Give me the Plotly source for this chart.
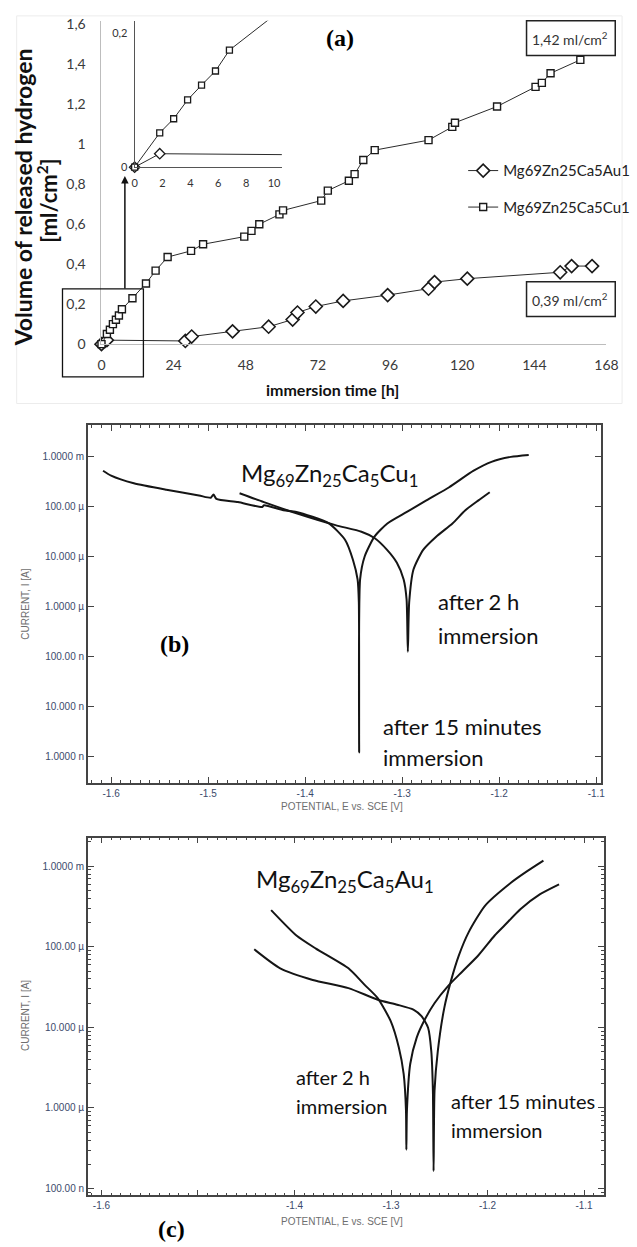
import plotly.graph_objects as go

W, H = 637, 1247


def px(x):
    return x / W


def py(y):
    return 1 - y / H


# ---------------- (a) hydrogen evolution ----------------
cu_hours = [0, 1.8, 2.8, 3.8, 4.8, 5.8, 6.8, 10.3, 14.8, 18.0, 22.0, 29.8, 33.8, 47.5, 49.9,
            52.5, 59.2, 60.4, 73.1, 75.3, 82.3, 84.2, 87.1, 90.9, 108.8, 116.7, 117.6, 131.6,
            144.4, 146.5, 149.4, 159.3]
cu_volume = [0, 0.051, 0.072, 0.100, 0.122, 0.143, 0.174, 0.229, 0.303, 0.367, 0.435, 0.466,
             0.499, 0.537, 0.566, 0.599, 0.648, 0.668, 0.717, 0.767, 0.816, 0.849, 0.920, 0.969,
             1.019, 1.085, 1.106, 1.187, 1.285, 1.305, 1.353, 1.420]
au_hours = [0, 1.8, 27.9, 30.0, 43.6, 55.6, 63.6, 65.2, 71.3, 80.4, 95.2, 108.8, 110.8, 121.7,
            152.6, 156.4, 163.2]
au_volume = [0, 0.020, 0.016, 0.038, 0.064, 0.087, 0.123, 0.158, 0.188, 0.216, 0.245, 0.277,
             0.310, 0.327, 0.359, 0.390, 0.390]

a_xticks = [0, 24, 48, 72, 96, 120, 144, 168]
a_yticks = [0, 0.2, 0.4, 0.6, 0.8, 1.0, 1.2, 1.4, 1.6]
a_yticktext = ["0", "0,2", "0,4", "0,6", "0,8", "1", "1,2", "1,4", "1,6"]
inset_xticks = [0, 2, 4, 6, 8, 10]
inset_yticks = [0, 0.2]
inset_yticktext = ["0", "0,2"]

# ---------------- (b) Mg69Zn25Ca5Cu1 polarisation ----------------
b15_E = [-1.6083, -1.600, -1.5766, -1.543, -1.5095, -1.4972, -1.4945, -1.4915, -1.4693, -1.4442,
         -1.4425, -1.4224, -1.409, -1.3759, -1.3588, -1.3508, -1.3460, -1.3447, -1.3444,
         -1.3434, -1.3387, -1.3286, -1.3153, -1.2952, -1.2751, -1.2516, -1.2264, -1.208,
         -1.188, -1.1696]
b15_log10I = [-3.277, -3.376, -3.529, -3.659, -3.772, -3.818, -3.752, -3.842, -3.905, -4.004,
              -3.970, -4.069, -4.103, -4.327, -4.663, -5.059, -5.455, -5.911, -8.921,
              -5.455, -4.994, -4.598, -4.333, -4.103, -3.871, -3.608, -3.277, -3.099,
              -3.000, -2.960]
b2h_E = [-1.4676, -1.4425, -1.409, -1.3688, -1.342, -1.3286, -1.3156, -1.3055, -1.2985, -1.2955,
         -1.2942, -1.2928, -1.2884, -1.2784, -1.265, -1.2482, -1.2349, -1.2214, -1.2098]
b2h_log10I = [-3.727, -3.905, -4.129, -4.366, -4.499, -4.624, -4.861, -5.119, -5.455, -5.851,
              -6.901, -5.911, -5.257, -4.861, -4.598, -4.333, -4.069, -3.871, -3.707]

b_yticks = [1e-9, 1e-8, 1e-7, 1e-6, 1e-5, 1e-4, 1e-3]
b_yticktext = ["1.0000 n", "10.000 n", "100.00 n", "1.0000 \u00b5", "10.000 \u00b5",
               "100.00 \u00b5", "1.0000 m"]
b_xticks = [-1.6, -1.5, -1.4, -1.3, -1.2, -1.1]
b_xticktext = ["-1.6", "-1.5", "-1.4", "-1.3", "-1.2", "-1.1"]

# ---------------- (c) Mg69Zn25Ca5Au1 polarisation ----------------
c2h_E = [-1.4242, -1.398, -1.3778, -1.3441, -1.3273, -1.3138, -1.3003, -1.2919, -1.2869,
         -1.2845, -1.2841, -1.2835, -1.2801, -1.2734, -1.265, -1.2548, -1.2414, -1.2263,
         -1.2094, -1.1926, -1.1825, -1.1657, -1.1455, -1.1259]
c2h_log10I = [-3.544, -3.859, -4.022, -4.267, -4.472, -4.636, -4.923, -5.249, -5.577, -6.027,
              -6.518, -6.027, -5.454, -5.126, -4.902, -4.697, -4.493, -4.309, -4.104, -3.859,
              -3.736, -3.531, -3.347, -3.225]
c15_E = [-1.4417, -1.4148, -1.3811, -1.3441, -1.3138, -1.2936, -1.2768, -1.2684, -1.2616,
         -1.2583, -1.2566, -1.2559, -1.2549, -1.2515, -1.2448, -1.2381, -1.2296, -1.2195,
         -1.2027, -1.1758, -1.1589, -1.1421]
c15_log10I = [-4.031, -4.267, -4.411, -4.513, -4.656, -4.718, -4.779, -4.861, -5.004, -5.291,
              -5.782, -6.783, -5.782, -5.291, -4.758, -4.432, -4.104, -3.818, -3.491, -3.205,
              -3.061, -2.930]

c_yticks = [1e-7, 1e-6, 1e-5, 1e-4, 1e-3]
c_yticktext = ["100.00 n", "1.0000 \u00b5", "10.000 \u00b5", "100.00 \u00b5", "1.0000 m"]
c_xticks = [-1.6, -1.5, -1.4, -1.3, -1.2, -1.1]
c_xticktext = ["-1.6", "", "-1.4", "-1.3", "-1.2", "-1.1"]


def to_current(vals):
    return [10 ** v for v in vals]


fig = go.Figure()

LINE = dict(color="#2b2b2b", width=1)
fig.add_trace(go.Scatter(
    x=au_hours, y=au_volume, mode="lines+markers", name="Mg69Zn25Ca5Au1",
    legendgroup="au", line=LINE, cliponaxis=False,
    marker=dict(symbol="diamond", size=10, color="white", line=dict(color="#1a1a1a", width=1.6)),
    xaxis="x", yaxis="y"))
fig.add_trace(go.Scatter(
    x=cu_hours, y=cu_volume, mode="lines+markers", name="Mg69Zn25Ca5Cu1",
    legendgroup="cu", line=LINE, cliponaxis=False,
    marker=dict(symbol="square", size=7, color="white", line=dict(color="#1a1a1a", width=1.4)),
    xaxis="x", yaxis="y"))
# inset
fig.add_trace(go.Scatter(
    x=au_hours, y=au_volume, mode="lines+markers", showlegend=False, line=LINE, cliponaxis=False,
    marker=dict(symbol="diamond", size=8, color="white", line=dict(color="#1a1a1a", width=1.3)),
    xaxis="x2", yaxis="y2"))
fig.add_trace(go.Scatter(
    x=cu_hours, y=cu_volume, mode="lines+markers", showlegend=False, line=LINE, cliponaxis=False,
    marker=dict(symbol="square", size=6, color="white", line=dict(color="#1a1a1a", width=1.3)),
    xaxis="x2", yaxis="y2"))

CURVE = dict(color="#151515", width=2, shape="spline", smoothing=0.6)
for E, L in [(b15_E, b15_log10I), (b2h_E, b2h_log10I)]:
    fig.add_trace(go.Scatter(x=E, y=to_current(L), mode="lines", line=CURVE,
                             showlegend=False, xaxis="x3", yaxis="y3"))
for E, L in [(c2h_E, c2h_log10I), (c15_E, c15_log10I)]:
    fig.add_trace(go.Scatter(x=E, y=to_current(L), mode="lines", line=CURVE,
                             showlegend=False, xaxis="x4", yaxis="y4"))

A_FONT = dict(family="Lato", size=14, color="#3a3a3a")
EC_TICKFONT = dict(family="Liberation Sans", size=10, color="#3b4a6b")
FRAME = "#444444"

fig.update_layout(
    width=W, height=H, autosize=False,
    margin=dict(l=0, r=0, t=0, b=0),
    paper_bgcolor="white", plot_bgcolor="white",
    showlegend=True,
    legend=dict(x=px(471), y=py(150), xanchor="left", yanchor="top",
                font=dict(family="Lato", size=15, color="#222222"),
                bgcolor="rgba(0,0,0,0)", itemwidth=30, tracegroupgap=14),
    xaxis=dict(domain=[px(100), px(618)], range=[0, 168], anchor="y",
               tickvals=a_xticks, showline=True, linecolor="#bdbdbd", linewidth=1,
               ticks="", showgrid=False, zeroline=False, tickfont=A_FONT,
               ticklabelstandoff=8),
    yaxis=dict(domain=[py(342), py(15)], range=[0, 1.6148], anchor="x",
               tickvals=a_yticks, ticktext=a_yticktext, showline=True, linecolor="#bdbdbd",
               linewidth=1, ticks="", showgrid=False, zeroline=False, tickfont=A_FONT,
               ticklabelstandoff=12),
    xaxis2=dict(domain=[px(134), px(285)], range=[0, 10.56], anchor="y2",
                tickvals=inset_xticks, showline=True, linecolor="#555555", linewidth=1,
                ticks="", showgrid=False, zeroline=False,
                tickfont=dict(family="Lato", size=11, color="#333333"), ticklabelstandoff=6),
    yaxis2=dict(domain=[py(163), py(15)], range=[0, 0.2176], anchor="x2",
                tickvals=inset_yticks, ticktext=inset_yticktext, showline=True,
                linecolor="#555555", linewidth=1, ticks="", showgrid=False, zeroline=False,
                tickfont=dict(family="Lato", size=11, color="#333333"), ticklabelstandoff=4),
    xaxis3=dict(domain=[px(86), px(612)], range=[-1.624, -1.0955], anchor="y3",
                tickvals=b_xticks, ticktext=b_xticktext, showline=True, mirror="allticks",
                linecolor=FRAME, linewidth=1.5, ticks="inside", ticklen=6, tickcolor=FRAME,
                minor=dict(dtick=0.01, ticks="inside", ticklen=3, tickcolor=FRAME),
                showgrid=False, zeroline=False, tickfont=EC_TICKFONT),
    yaxis3=dict(domain=[py(786), py(424)], type="log", range=[-9.535, -2.366], anchor="x3",
                tickvals=b_yticks, ticktext=b_yticktext, showline=True, mirror="allticks",
                linecolor=FRAME, linewidth=1.5, ticks="inside", ticklen=6, tickcolor=FRAME,
                showgrid=False, zeroline=False, tickfont=EC_TICKFONT),
    xaxis4=dict(domain=[px(86), px(615)], range=[-1.6141, -1.0798], anchor="y4",
                tickvals=c_xticks, ticktext=c_xticktext, showline=True, mirror="allticks",
                linecolor=FRAME, linewidth=1.5, ticks="inside", ticklen=6, tickcolor=FRAME,
                minor=dict(dtick=0.01, ticks="inside", ticklen=3, tickcolor=FRAME),
                showgrid=False, zeroline=False, tickfont=EC_TICKFONT),
    yaxis4=dict(domain=[py(1203), py(841)], type="log", range=[-7.086, -2.644], anchor="x4",
                tickvals=c_yticks, ticktext=c_yticktext, showline=True, mirror="allticks",
                linecolor=FRAME, linewidth=1.5, ticks="inside", ticklen=6, tickcolor=FRAME,
                minor=dict(dtick="D1", ticks="inside", ticklen=3, tickcolor=FRAME),
                showgrid=False, zeroline=False, tickfont=EC_TICKFONT),
)

shapes = [
    # faint frame of panel (a)
    dict(type="rect", xref="paper", yref="paper", x0=px(13), x1=px(634), y0=py(402), y1=py(10),
         line=dict(color="#ececec", width=1), layer="below"),
    # zoom source rectangle
    dict(type="rect", xref="paper", yref="paper", x0=px(60), x1=px(143), y0=py(375), y1=py(286),
         line=dict(color="#111111", width=1.3)),
    # value boxes
    dict(type="rect", xref="paper", yref="paper", x0=px(536), x1=px(627), y0=py(50), y1=py(15),
         line=dict(color="#222222", width=1.5), fillcolor="white"),
    dict(type="rect", xref="paper", yref="paper", x0=px(536), x1=px(627), y0=py(314), y1=py(279),
         line=dict(color="#222222", width=1.5), fillcolor="white"),
]


def ann(text, x, y, size, xanchor="center", yanchor="middle", family="Lato", color="#111111",
        angle=0, bg=None):
    d = dict(text=text, x=px(x), y=py(y), xref="paper", yref="paper", showarrow=False,
             xanchor=xanchor, yanchor=yanchor, textangle=angle,
             font=dict(family=family, size=size, color=color))
    if bg:
        d["bgcolor"] = bg
    return d


annotations = [
    ann("<b>(a)</b>", 345, 32, 24, family="Liberation Serif", color="#000000", bg="white"),
    ann("1,42 ml/cm<sup>2</sup>", 581, 33, 14, color="#333333"),
    ann("0,39 ml/cm<sup>2</sup>", 581, 297, 14, color="#333333"),
    ann("<b>Volume of released hydrogen</b>", 19, 194, 23, angle=-90, color="#111111"),
    ann("<b>[ml/cm<sup>2</sup>]</b>", 45, 197, 22, angle=-90, color="#111111"),
    ann("<b>immersion time [h]</b>", 337, 388, 16, color="#111111"),
    # arrow from zoom box to inset
    dict(x=px(124), y=py(172), xref="paper", yref="paper", ax=0, ay=114, text="",
         showarrow=True, arrowhead=2, arrowsize=1, arrowwidth=1.5, arrowcolor="#111111"),
    # (b)
    ann("Mg<sub>69</sub>Zn<sub>25</sub>Ca<sub>5</sub>Cu<sub>1</sub>", 241, 474, 24,
        xanchor="left"),
    ann("after 2 h", 443, 602, 22, xanchor="left"),
    ann("immersion", 443, 637, 22, xanchor="left"),
    ann("after 15 minutes", 387, 729, 22, xanchor="left"),
    ann("immersion", 387, 760, 22, xanchor="left"),
    ann("<b>(b)</b>", 175, 645, 24, family="Liberation Serif", color="#000000"),
    ann("CURRENT, I [A]", 22, 605, 10, angle=-90, family="Liberation Sans", color="#6e6e6e"),
    ann("POTENTIAL, E vs. SCE [V]", 347, 810, 10, family="Liberation Sans", color="#6e6e6e"),
    # (c)
    ann("Mg<sub>69</sub>Zn<sub>25</sub>Ca<sub>5</sub>Au<sub>1</sub>", 256, 884, 24,
        xanchor="left"),
    ann("after 2 h", 297, 1083, 20, xanchor="left"),
    ann("immersion", 297, 1112, 20, xanchor="left"),
    ann("after 15 minutes", 456, 1107, 20, xanchor="left"),
    ann("immersion", 456, 1137, 20, xanchor="left"),
    ann("<b>(c)</b>", 172, 1237, 24, family="Liberation Serif", color="#000000"),
    ann("CURRENT, I [A]", 22, 1021, 10, angle=-90, family="Liberation Sans", color="#6e6e6e"),
    ann("POTENTIAL, E vs. SCE [V]", 347, 1229, 10, family="Liberation Sans", color="#6e6e6e"),
]

fig.update_layout(shapes=shapes, annotations=annotations)
fig.write_html("out.html")
